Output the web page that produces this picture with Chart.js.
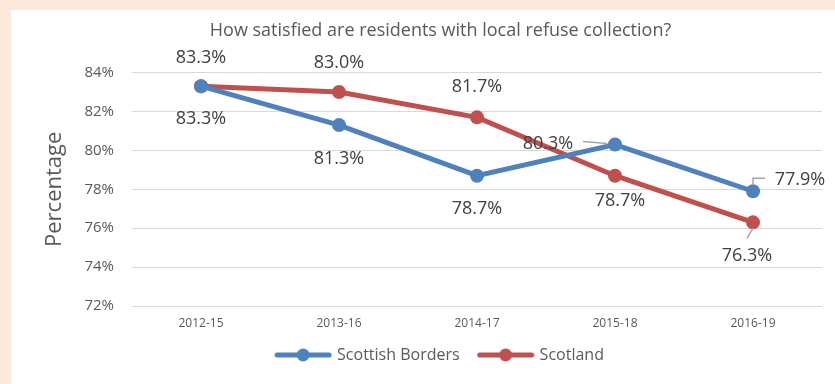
<!DOCTYPE html>
<html>
<head>
<meta charset="utf-8">
<script src="https://cdn.jsdelivr.net/npm/chart.js@4.4.0/dist/chart.umd.min.js"></script>
<style>
  html, body { margin: 0; padding: 0; background: #fde9db; }
  #panel { position: absolute; left: 11px; top: 10px; width: 824px; height: 374px; background: #fff; }
</style>
</head>
<body>
<div id="panel"><canvas id="refuseChart"></canvas></div>
<script>
const years = ['2012-15', '2013-16', '2014-17', '2015-18', '2016-19'];
const bordersValues = [83.3, 81.3, 78.7, 80.3, 77.9];
const scotlandValues = [83.3, 83.0, 81.7, 78.7, 76.3];
const yTicks = [72, 74, 76, 78, 80, 82, 84];

const BLUE = '#4f81bd';
const RED = '#c0504d';
const TEXT = '#595959';
const FONT = "'Open Sans', sans-serif";

// label offsets from each point (px) and optional leader lines
const labelStyle = [
  {
    offsets: [[0, 33], [0, 34], [0, 33], [-67, -1], [47, -11]],
    leaders: { 3: [[-32, -3], [-8, -1]], 4: [[0, -7], [0, -13], [12, -13]] },
  },
  {
    offsets: [[0, -28], [0, -29], [0, -30], [5, 25], [-6, 34]],
    leaders: { 4: [[0, 6], [-6, 16]] },
  },
];

function legendIcon(color) {
  const c = document.createElement('canvas');
  c.width = 58;
  c.height = 14;
  const ctx = c.getContext('2d');
  ctx.strokeStyle = color;
  ctx.lineWidth = 5;
  ctx.lineCap = 'round';
  ctx.beginPath();
  ctx.moveTo(3, 7);
  ctx.lineTo(55, 7);
  ctx.stroke();
  ctx.fillStyle = color;
  ctx.beginPath();
  ctx.arc(29, 7, 6.5, 0, Math.PI * 2);
  ctx.fill();
  return c;
}

const pointLabels = {
  id: 'pointLabels',
  afterDatasetsDraw(chart) {
    const ctx = chart.ctx;
    ctx.save();
    ctx.font = '18px ' + FONT;
    ctx.fillStyle = '#404040';
    ctx.textAlign = 'center';
    ctx.textBaseline = 'middle';
    chart.data.datasets.forEach((ds, di) => {
      const meta = chart.getDatasetMeta(di);
      const style = labelStyle[di];
      meta.data.forEach((pt, i) => {
        const [dx, dy] = style.offsets[i];
        ctx.fillText(ds.data[i].toFixed(1) + '%', pt.x + dx, pt.y + dy);
        const leader = style.leaders[i];
        if (leader) {
          ctx.strokeStyle = '#a6a6a6';
          ctx.lineWidth = 1.5;
          ctx.beginPath();
          leader.forEach(([lx, ly], k) => {
            if (k === 0) ctx.moveTo(pt.x + lx, pt.y + ly);
            else ctx.lineTo(pt.x + lx, pt.y + ly);
          });
          ctx.stroke();
        }
      });
    });
    ctx.restore();
  },
};

new Chart(document.getElementById('refuseChart'), {
  type: 'line',
  data: {
    labels: years,
    datasets: [
      { label: 'Scottish Borders', data: bordersValues, borderColor: BLUE, backgroundColor: BLUE },
      { label: 'Scotland', data: scotlandValues, borderColor: RED, backgroundColor: RED },
    ],
  },
  options: {
    responsive: true,
    maintainAspectRatio: false,
    animation: false,
    layout: { padding: { left: 48, right: 13, top: 0, bottom: 11 } },
    datasets: {
      line: {
        borderWidth: 5,
        tension: 0,
        pointStyle: 'circle',
        pointRadius: 7,
        pointHoverRadius: 7,
        pointBorderWidth: 0,
      },
    },
    scales: {
      x: {
        offset: true,
        afterFit(scale) { scale.height = 21; },
        grid: { display: false },
        border: { display: false },
        ticks: { color: TEXT, font: { family: FONT, size: 12 }, padding: 2 },
      },
      y: {
        min: 72,
        max: 84,
        afterBuildTicks(scale) {
          scale.ticks = yTicks.map(v => ({ value: v }));
        },
        afterFit(scale) { scale.width = 73; },
        grid: { color: '#d9d9d9', lineWidth: 1, drawTicks: false },
        border: { display: false },
        ticks: {
          color: TEXT,
          font: { family: FONT, size: 15 },
          padding: 18,
          callback: v => v + '%',
        },
        title: {
          display: true,
          text: 'Percentage',
          color: TEXT,
          font: { family: FONT, size: 22 },
          padding: { top: -17, bottom: 0 },
        },
      },
    },
    plugins: {
      title: {
        display: true,
        text: 'How satisfied are residents with local refuse collection?',
        color: TEXT,
        font: { family: FONT, size: 18, weight: 'normal' },
        padding: { top: 10, bottom: 31 },
      },
      legend: {
        position: 'bottom',
        labels: {
          usePointStyle: true,
          pointStyleWidth: 52,
          color: TEXT,
          font: { family: FONT, size: 16 },
          padding: 20,
          generateLabels(chart) {
            return chart.data.datasets.map((ds, i) => ({
              text: ds.label,
              pointStyle: legendIcon(ds.borderColor),
              fontColor: TEXT,
              lineWidth: 0,
              strokeStyle: 'transparent',
              fillStyle: ds.borderColor,
              datasetIndex: i,
              hidden: false,
            }));
          },
        },
      },
      tooltip: { enabled: false },
    },
  },
  plugins: [pointLabels],
});
</script>
</body>
</html>
